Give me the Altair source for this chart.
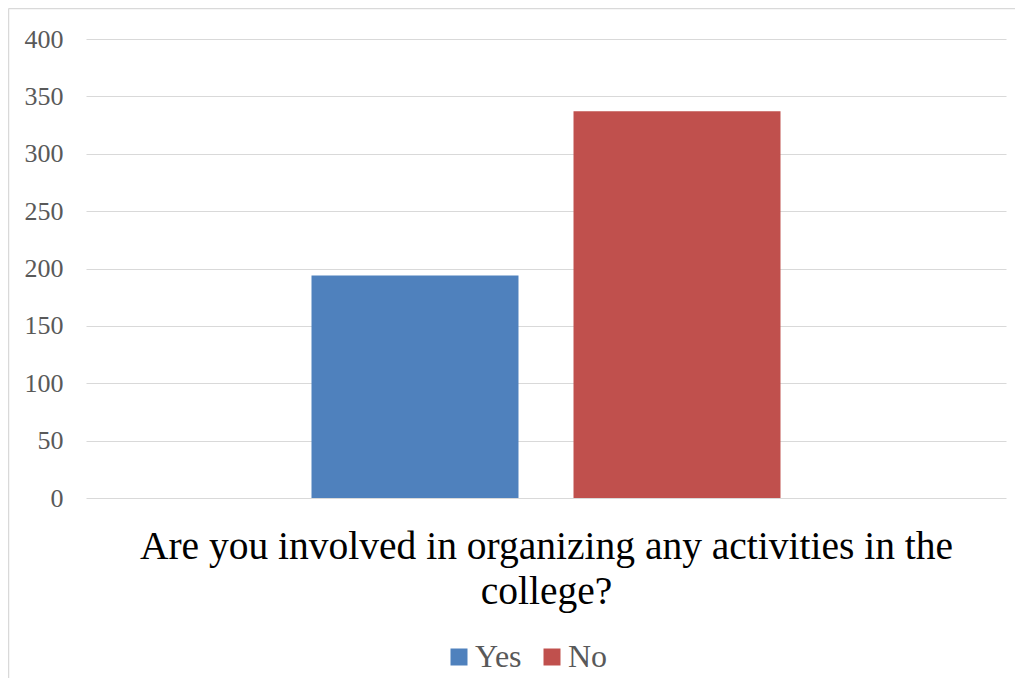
import altair as alt
import pandas as pd

question = "Are you involved in organizing any activities in the college?"
series = ["Yes", "No"]
values = [194, 337]
colors = ["#4f81bd", "#c0504d"]
y_ticks = [0, 50, 100, 150, 200, 250, 300, 350, 400]

df = pd.DataFrame({"q": [question] * len(series), "series": series, "value": values})

FONT = "Liberation Serif"

bars = alt.Chart(df).mark_bar().encode(
    x=alt.X("q:N",
            scale=alt.Scale(paddingInner=0, paddingOuter=0.4808),
            axis=alt.Axis(labels=False, ticks=False, domain=False,
                          title=["Are you involved in organizing any activities in the", "college?"],
                          titleFont=FONT, titleFontSize=39.5, titleFontWeight="normal",
                          titleColor="#000000", titleLineHeight=45, titlePadding=29)),
    xOffset=alt.XOffset("series:N", sort=series,
                        scale=alt.Scale(paddingInner=0.21, paddingOuter=0)),
    y=alt.Y("value:Q",
            scale=alt.Scale(domain=[0, 400], nice=False),
            axis=alt.Axis(values=y_ticks, title=None, domain=False, ticks=False,
                          grid=True, gridColor="#d9d9d9", gridWidth=1,
                          labelFont=FONT, labelFontSize=26, labelColor="#595959",
                          labelPadding=23)),
    color=alt.Color("series:N", sort=series,
                    scale=alt.Scale(domain=series, range=colors),
                    legend=alt.Legend(title=None, orient="none", direction="horizontal",
                                      legendX=357, legendY=602,
                                      symbolType="square", symbolSize=289,
                                      symbolStrokeWidth=0, symbolOpacity=1,
                                      labelFont=FONT, labelFontSize=32,
                                      labelColor="#595959", labelOffset=0,
                                      columnPadding=14)),
)

frame = alt.Data(values=[{}])
top_line = alt.Chart(frame).mark_rule(color="#d9d9d9", strokeWidth=1.5).encode(
    x=alt.value(-77.5), x2=alt.value(3000), y=alt.value(-30.5)
)
left_line = alt.Chart(frame).mark_rule(color="#d9d9d9", strokeWidth=1.5).encode(
    x=alt.value(-77.5), y=alt.value(-30.5), y2=alt.value(3000)
)

chart = alt.layer(top_line, left_line, bars).properties(
    width=920, height=459,
    autosize=alt.AutoSizeParams(type="none"),
    padding={"left": 78, "top": 31, "right": 9, "bottom": 180},
    background="#ffffff",
).configure_view(stroke=None)

chart.save("out.html", embed_options={"renderer": "svg", "actions": False})
